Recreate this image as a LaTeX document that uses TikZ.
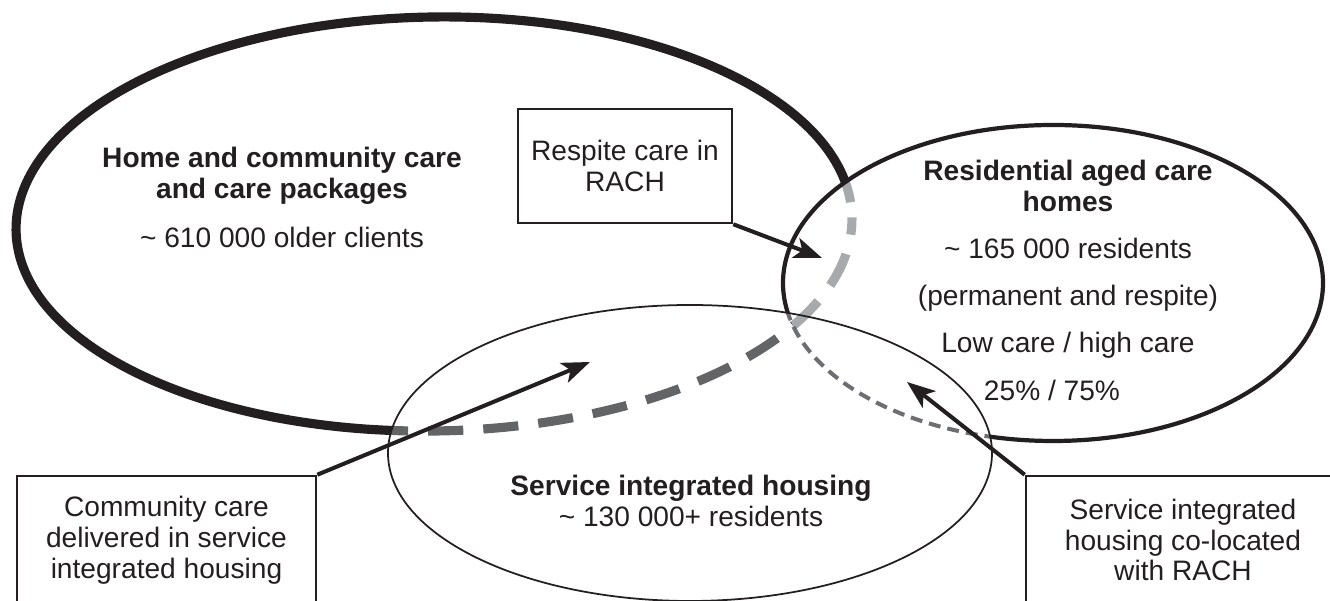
\documentclass[tikz,border=0pt]{standalone}
\usepackage{fontspec}
\setmainfont{Liberation Sans}
\usetikzlibrary{arrows.meta}
\definecolor{inkblack}{HTML}{231F20}
\definecolor{lightdash}{HTML}{A7A9AC}
\definecolor{darkdash}{HTML}{636466}
\definecolor{middash}{HTML}{6D6E71}

\begin{document}
\begin{tikzpicture}[x=0.01cm, y=-0.01cm,
    font=\fontsize{8}{8.8}\selectfont,
    infobox/.style={draw=inkblack, line width=0.7pt, fill=white, align=center, inner sep=0pt, text=inkblack},
    labeltext/.style={align=center, inner sep=0pt, text=inkblack},
    pointer/.style={draw=inkblack, line width=1.15pt, -{Stealth[length=8pt, width=6pt, inset=2pt]}},
    homeline/.style={line width=2.6pt, rotate around={0.9:(434,224)}},
    thickdash/.style={dash pattern=on 10pt off 5.7pt, dash phase=5.1pt}]

  \useasboundingbox (0,0) rectangle (1330,601);
  \clip (0,0) rectangle (1330,601);

  % Home care ellipse, solid where it is in front
  \begin{scope}
    \clip (-50,-50) -- (1400,-50) -- (1400,700) -- (-50,700) -- cycle
      (1323,283) arc [start angle=0, end angle=-360, x radius=270, y radius=158] -- cycle;
    \clip (-50,-50) -- (1400,-50) -- (1400,700) -- (-50,700) -- cycle
      (992,453) arc [start angle=0, end angle=-360, x radius=302, y radius=148] -- cycle;
    \draw[homeline, inkblack] (434,224) ellipse [x radius=418, y radius=207];
  \end{scope}

  % Home care ellipse behind the residential homes
  \begin{scope}
    \clip (1053,283) ellipse [x radius=270, y radius=158];
    \draw[homeline, thickdash, lightdash] (434,224) ellipse [x radius=418, y radius=207];
  \end{scope}

  % Home care ellipse behind the housing
  \begin{scope}
    \clip (690,453) ellipse [x radius=302, y radius=148];
    \clip (-50,-50) -- (1400,-50) -- (1400,700) -- (-50,700) -- cycle
      (1323,283) arc [start angle=0, end angle=-360, x radius=270, y radius=158] -- cycle;
    \draw[homeline, thickdash, darkdash] (434,224) ellipse [x radius=418, y radius=207];
  \end{scope}

  % Residential homes ellipse
  \begin{scope}
    \clip (-50,-50) -- (1400,-50) -- (1400,700) -- (-50,700) -- cycle
      (992,453) arc [start angle=0, end angle=-360, x radius=302, y radius=148] -- cycle;
    \draw[inkblack, line width=1.2pt] (1053,283) ellipse [x radius=270, y radius=158];
  \end{scope}
  \begin{scope}
    \clip (690,453) ellipse [x radius=302, y radius=148];
    \draw[middash, line width=1.15pt, dash pattern=on 3.4pt off 2pt] (1053,283) ellipse [x radius=270, y radius=158];
  \end{scope}

  % Service integrated housing ellipse
  \draw[inkblack, line width=0.5pt] (690,453) ellipse [x radius=302, y radius=148];

  % Texts in the ellipses
  \node[labeltext, anchor=north] (homecare) at (282,146.6)
    {\textbf{Home and community care}\\\textbf{and care packages}\\[5.1pt]\textasciitilde{} 610 000 older clients};
  \node[labeltext, anchor=north] (rach) at (1068,159.6)
    {\textbf{Residential aged care}\\\textbf{homes}\\[4.6pt]\textasciitilde{} 165 000 residents\\[4.6pt](permanent and respite)\\[4.6pt]Low care / high care\\[4.6pt]25\% / 75\%\hspace*{9.1pt}};
  \node[labeltext, anchor=north] (sih) at (691,474.5)
    {\textbf{Service integrated housing}\\\textasciitilde{} 130 000+ residents};

  % Boxes
  \node[infobox, minimum width=2.14cm, minimum height=1.14cm] (respite) at (625,166) {Respite care in\\RACH};
  \node[infobox, minimum width=2.99cm, minimum height=1.28cm] (community) at (166.5,540) {Community care\\delivered in service\\integrated housing};
  \node[infobox, minimum width=3.14cm, minimum height=1.28cm] (colocated) at (1183,540) {Service integrated\\housing co-located\\with RACH};

  % Arrows
  \coordinate (respitetip) at (822,258);
  \coordinate (communitytip) at (590,362);
  \coordinate (colocatedtip) at (907,382);
  \draw[pointer] (respite.south east) -- (respitetip);
  \draw[pointer] (community.north east) -- (communitytip);
  \draw[pointer] (colocated.north west) -- (colocatedtip);
\end{tikzpicture}
\end{document}
